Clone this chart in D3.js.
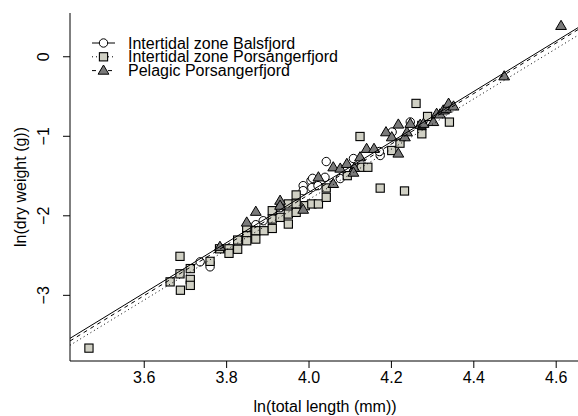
<!DOCTYPE html>
<html>
<head>
<meta charset="utf-8">
<script src="https://cdn.jsdelivr.net/npm/d3@7"></script>
<style>
  body { margin: 0; background: #fff; }
  text { font-family: "Liberation Sans", Arial, Helvetica, sans-serif; fill: #000; }
</style>
</head>
<body>
<div id="chart"></div>
<script>
/* ln(dry weight) vs ln(total length), three groups with fitted lines */

// Intertidal zone Balsfjord (open circles)
const balsX = [3.737, 3.761, 3.761, 3.872, 3.890, 3.931, 3.987, 3.987, 4.006, 4.008,
               4.023, 4.040, 4.043, 4.077, 4.109, 4.174, 4.172, 4.203, 4.247, 4.010];
const balsY = [-2.585, -2.598, -2.648, -2.118, -2.068, -1.904, -1.627, -1.690, -1.564, -1.652,
               -1.627, -1.522, -1.324, -1.538, -1.286, -1.248, -1.198, -0.952, -0.826, -1.535];

// Intertidal zone Porsangerfjord (grey squares)
const porsX = [3.467, 3.664, 3.688, 3.688, 3.689, 3.713, 3.713, 3.713, 3.761, 3.784,
               3.807, 3.807, 3.828, 3.828, 3.850, 3.850, 3.850, 3.872, 3.872, 3.892,
               3.912, 3.912, 3.912, 3.931, 3.951, 3.951, 3.951, 3.970, 3.970, 3.970,
               3.992, 4.008, 4.024, 4.043, 4.043, 4.094, 4.125, 4.128, 4.144, 4.174,
               4.233, 4.202, 4.222, 4.261, 4.275, 4.275, 4.289, 4.342];
const porsY = [-3.670, -2.837, -2.516, -2.736, -2.942, -2.670, -2.806, -2.881, -2.579, -2.421,
               -2.421, -2.478, -2.427, -2.311, -2.173, -2.257, -2.320, -2.194, -2.299, -2.194,
               -1.942, -2.047, -2.165, -2.026, -1.857, -1.984, -2.110, -1.744, -1.857, -1.963,
               -1.879, -1.857, -1.857, -1.656, -1.774, -1.501, -1.009, -1.396, -1.396, -1.658,
               -1.694, -1.185, -1.093, -0.593, -0.870, -0.975, -0.757, -0.828];

// Pelagic Porsangerfjord (dark triangles)
const pelX = [3.785, 3.850, 3.872, 3.931, 3.931, 3.987, 4.024, 4.060, 4.060, 4.077,
              4.093, 4.111, 4.109, 4.125, 4.141, 4.159, 4.188, 4.202, 4.218, 4.218,
              4.234, 4.239, 4.247, 4.271, 4.279, 4.303, 4.311, 4.319, 4.327, 4.334,
              4.340, 4.352, 4.475, 4.613];
const pelY = [-2.396, -2.090, -1.955, -1.816, -1.879, -1.929, -1.522, -1.396, -1.605, -1.412,
              -1.353, -1.404, -1.463, -1.270, -1.164, -1.164, -0.955, -1.018, -0.858, -1.223,
              -1.018, -0.955, -0.849, -0.861, -0.849, -0.826, -0.723, -0.731, -0.681, -0.660,
              -0.596, -0.631, -0.252, 0.382];

// fitted lines: Balsfjord, intertidal Porsanger, pelagic Porsanger
const fitIntercept = [-14.385, -14.448, -14.442];
const fitSlope = [3.168, 3.161, 3.175];

const groupNames = ["Intertidal zone Balsfjord", "Intertidal zone Porsangerfjord", "Pelagic Porsangerfjord"];
const xTicks = [3.6, 3.8, 4.0, 4.2, 4.4, 4.6];
const yTicks = [0, -1, -2, -3];

const width = 578, height = 416;
const margin = {left: 70, right: 580, top: 13, bottom: 361};

const x = d3.scaleLinear().domain([3.421, 4.659]).range([margin.left, margin.right]);
const y = d3.scaleLinear().domain([-3.832, 0.544]).range([margin.bottom, margin.top]);

const dash = [null, "1,3", "4,4"];
const sqFill = "#d0d0c4", triFill = "#7a7a7a";

const svg = d3.select("#chart").append("svg")
  .attr("width", width)
  .attr("height", height);

svg.append("clipPath").attr("id", "plotclip")
  .append("rect")
  .attr("x", margin.left).attr("y", margin.top)
  .attr("width", margin.right - margin.left).attr("height", margin.bottom - margin.top);

const plot = svg.append("g").attr("clip-path", "url(#plotclip)");

const zip = (xs, ys) => xs.map((v, i) => [v, ys[i]]);

// symbol drawers
function circle(g, cx, cy) {
  g.append("circle").attr("cx", cx).attr("cy", cy).attr("r", 4.2)
    .attr("fill", "#fff").attr("stroke", "#000").attr("stroke-width", 1);
}
function square(g, cx, cy) {
  g.append("rect").attr("x", cx - 4.1).attr("y", cy - 4.1).attr("width", 8.2).attr("height", 8.2)
    .attr("fill", sqFill).attr("stroke", "#000").attr("stroke-width", 1.1);
}
function triangle(g, cx, cy) {
  g.append("path")
    .attr("d", `M${cx},${cy - 5.6}L${cx + 5.4},${cy + 3.6}L${cx - 5.4},${cy + 3.6}Z`)
    .attr("fill", triFill).attr("stroke", "#000").attr("stroke-width", 1);
}
const drawers = [circle, square, triangle];

const pts = plot.append("g");
zip(balsX, balsY).forEach(d => circle(pts, x(d[0]), y(d[1])));
zip(porsX, porsY).forEach(d => square(pts, x(d[0]), y(d[1])));
zip(pelX, pelY).forEach(d => triangle(pts, x(d[0]), y(d[1])));

// regression lines across the full plotting region
const xd = x.domain();
plot.append("g")
  .selectAll("line")
  .data(fitIntercept.map((a, i) => ({a, b: fitSlope[i], i})))
  .join("line")
  .attr("x1", x(xd[0])).attr("x2", x(xd[1]))
  .attr("y1", d => y(d.a + d.b * xd[0]))
  .attr("y2", d => y(d.a + d.b * xd[1]))
  .attr("stroke", "#000")
  .attr("stroke-width", 1)
  .attr("stroke-dasharray", d => dash[d.i]);

// L-shaped box
svg.append("path")
  .attr("d", `M${margin.left},${margin.top}V${margin.bottom}H${width + 5}`)
  .attr("fill", "none").attr("stroke", "#000").attr("stroke-width", 1);

// axes
const xAxis = svg.append("g").attr("transform", `translate(0,${margin.bottom})`)
  .call(d3.axisBottom(x).tickValues(xTicks).tickFormat(d3.format(".1f")).tickSize(7));
xAxis.select(".domain").remove();
xAxis.selectAll("text").attr("font-size", 16).attr("dy", null).attr("y", 0)
  .attr("dominant-baseline", "central")
  .attr("transform", "translate(0,16)");

const yAxis = svg.append("g").attr("transform", `translate(${margin.left},0)`)
  .call(d3.axisLeft(y).tickValues(yTicks).tickFormat(d => d < 0 ? "\u2212" + Math.abs(d) : d).tickSize(7));
yAxis.select(".domain").remove();
yAxis.selectAll("text")
  .attr("font-size", 16)
  .attr("x", 0).attr("dy", null)
  .attr("text-anchor", "middle")
  .attr("dominant-baseline", "central")
  .attr("transform", "translate(-27,0) rotate(-90)");

svg.selectAll(".tick line").attr("stroke", "#000");
svg.selectAll(".tick text").attr("fill", "#000").attr("font-family", null);

// axis titles
svg.append("text")
  .attr("x", (margin.left + margin.right) / 2).attr("y", 406)
  .attr("text-anchor", "middle").attr("dominant-baseline", "central")
  .attr("font-size", 16)
  .text("ln(total length (mm))");

svg.append("text")
  .attr("transform", `translate(20,${(margin.top + margin.bottom) / 2}) rotate(-90)`)
  .attr("text-anchor", "middle").attr("dominant-baseline", "central")
  .attr("font-size", 16)
  .text("ln(dry weight (g))");

// legend
const legend = svg.append("g");
groupNames.forEach((name, i) => {
  const ly = 43 + i * 13.8;
  legend.append("line")
    .attr("x1", 92).attr("x2", 115).attr("y1", ly).attr("y2", ly)
    .attr("stroke", "#000").attr("stroke-width", 1)
    .attr("stroke-dasharray", dash[i]);
  drawers[i](legend, 103.5, ly);
  legend.append("text")
    .attr("x", 128).attr("y", ly)
    .attr("dominant-baseline", "central")
    .attr("font-size", 16)
    .text(name);
});
</script>
</body>
</html>
